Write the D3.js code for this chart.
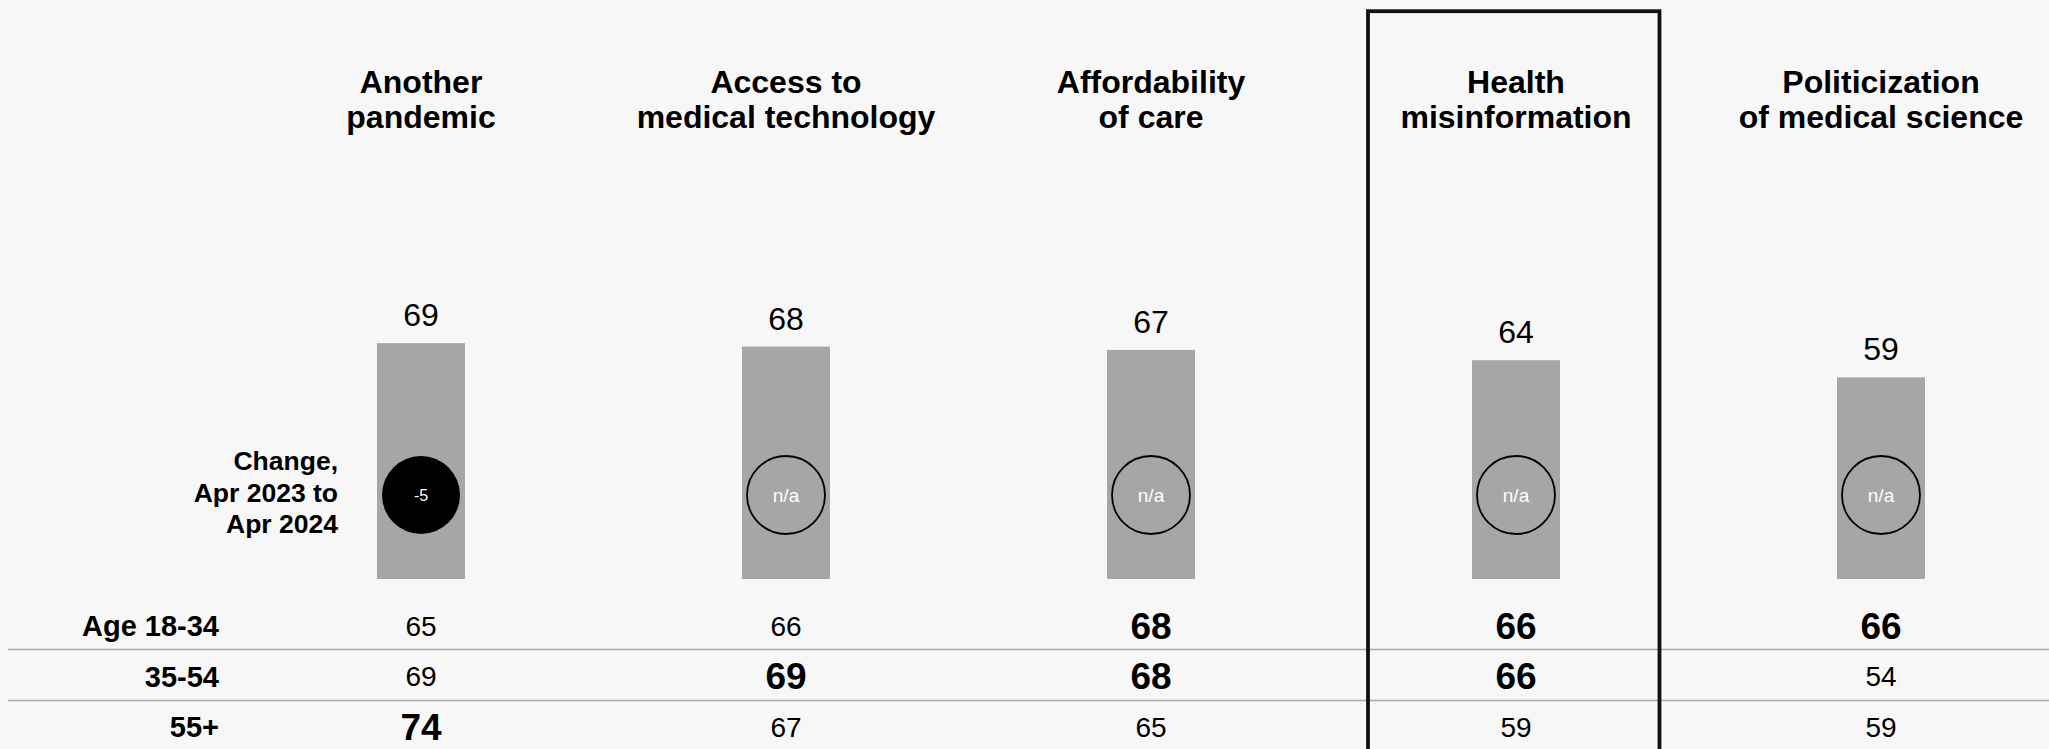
<!DOCTYPE html>
<html>
<head>
<meta charset="utf-8">
<script src="https://cdn.jsdelivr.net/npm/d3@7"></script>
<style>
  html, body { margin: 0; padding: 0; background: #f7f7f7; }
  svg { display: block; font-family: "Liberation Sans", Arial, sans-serif; }
</style>
</head>
<body>
<svg id="chart" width="2049" height="749"></svg>
<script>
// Health concerns: overall share, change since last year, and split by age
const categories = [
  ["Another", "pandemic"],
  ["Access to", "medical technology"],
  ["Affordability", "of care"],
  ["Health", "misinformation"],
  ["Politicization", "of medical science"]
];
const overall = [69, 68, 67, 64, 59];
const change = [-5, null, null, null, null];          // null = n/a
const changeLabel = ["Change,", "Apr 2023 to", "Apr 2024"];
const highlighted = 3;

const ageGroups = ["Age 18-34", "35-54", "55+"];
const age18to34 = [65, 66, 68, 66, 66];
const age35to54 = [69, 69, 68, 66, 54];
const age55plus = [74, 67, 65, 59, 59];
// values that stand out above the overall figure are set in bold
const bold18to34 = [false, false, true, true, true];
const bold35to54 = [false, true, true, true, false];
const bold55plus = [true, false, false, false, false];

const rows = [
  { label: ageGroups[0], values: age18to34, bold: bold18to34 },
  { label: ageGroups[1], values: age35to54, bold: bold35to54 },
  { label: ageGroups[2], values: age55plus, bold: bold55plus }
];

const svg = d3.select("#chart");
const W = 2049, H = 749;

const x = d3.scalePoint().domain(d3.range(categories.length)).range([421, 1881]);
const y = d3.scaleLinear().domain([0, 100]).range([579, 237.2]);
const rowY = d3.scalePoint().domain(d3.range(rows.length)).range([626, 727]);

const barWidth = 88;
const circleY = 495, circleR = 39;

// background
svg.append("rect").attr("width", W).attr("height", H).attr("fill", "#f7f7f7");

// row separators
svg.selectAll("line.sep")
  .data([649.5, 700.5])
  .join("line")
  .attr("class", "sep")
  .attr("x1", 8).attr("x2", W)
  .attr("y1", d => d).attr("y2", d => d)
  .attr("stroke", "#a9a9a9").attr("stroke-width", 1.3);

// column titles
const titles = svg.selectAll("text.title")
  .data(categories)
  .join("text")
  .attr("class", "title")
  .attr("text-anchor", "middle")
  .attr("font-size", 32)
  .attr("font-weight", "bold")
  .attr("fill", "#000");
titles.selectAll("tspan")
  .data((d, i) => d.map(line => ({ line, i })))
  .join("tspan")
  .attr("x", d => x(d.i))
  .attr("y", (d, j) => 92.5 + j * 35.8)
  .text(d => d.line);

// bars
svg.selectAll("rect.bar")
  .data(overall)
  .join("rect")
  .attr("class", "bar")
  .attr("x", (d, i) => x(i) - barWidth / 2)
  .attr("width", barWidth)
  .attr("y", d => y(d))
  .attr("height", d => y(0) - y(d))
  .attr("fill", "#a6a6a6");

// bar value labels
svg.selectAll("text.val")
  .data(overall)
  .join("text")
  .attr("class", "val")
  .attr("x", (d, i) => x(i))
  .attr("y", d => y(d) - 17)
  .attr("text-anchor", "middle")
  .attr("font-size", 32)
  .attr("fill", "#000")
  .text(d => d);

// change circles
svg.selectAll("circle.chg")
  .data(change)
  .join("circle")
  .attr("class", "chg")
  .attr("cx", (d, i) => x(i))
  .attr("cy", circleY)
  .attr("r", circleR)
  .attr("fill", d => d === null ? "none" : "#000")
  .attr("stroke", "#000")
  .attr("stroke-width", d => d === null ? 1.8 : 0);

svg.selectAll("text.chg")
  .data(change)
  .join("text")
  .attr("class", "chg")
  .attr("x", (d, i) => x(i))
  .attr("y", circleY)
  .attr("dy", "0.35em")
  .attr("text-anchor", "middle")
  .attr("font-size", d => d === null ? 19 : 16)
  .attr("fill", "#ffffff")
  .text(d => d === null ? "n/a" : d);

// change label
svg.append("text")
  .attr("text-anchor", "end")
  .attr("font-size", 26.5)
  .attr("font-weight", "bold")
  .attr("fill", "#000")
  .selectAll("tspan")
  .data(changeLabel)
  .join("tspan")
  .attr("x", 338)
  .attr("y", (d, i) => 470 + i * 31.6)
  .text(d => d);

// age group labels
svg.selectAll("text.rowlab")
  .data(rows)
  .join("text")
  .attr("class", "rowlab")
  .attr("x", 219)
  .attr("y", (d, i) => rowY(i))
  .attr("dy", "0.35em")
  .attr("text-anchor", "end")
  .attr("font-size", 29)
  .attr("font-weight", "bold")
  .attr("fill", "#000")
  .text(d => d.label);

// age group values
const rowG = svg.selectAll("g.row")
  .data(rows)
  .join("g")
  .attr("class", "row");
rowG.selectAll("text")
  .data((r, ri) => r.values.map((v, ci) => ({ v, ci, ri, b: r.bold[ci] })))
  .join("text")
  .attr("x", d => x(d.ci))
  .attr("y", d => rowY(d.ri))
  .attr("dy", "0.35em")
  .attr("text-anchor", "middle")
  .attr("font-size", d => d.b ? 37 : 28)
  .attr("font-weight", d => d.b ? "bold" : "normal")
  .attr("fill", "#000")
  .text(d => d.v);

// highlight frame around one column
svg.append("rect")
  .attr("x", x(highlighted) - 148)
  .attr("y", 11.2)
  .attr("width", 291.5)
  .attr("height", H + 20)
  .attr("fill", "none")
  .attr("stroke", "#111")
  .attr("stroke-width", 3.8);
</script>
</body>
</html>
